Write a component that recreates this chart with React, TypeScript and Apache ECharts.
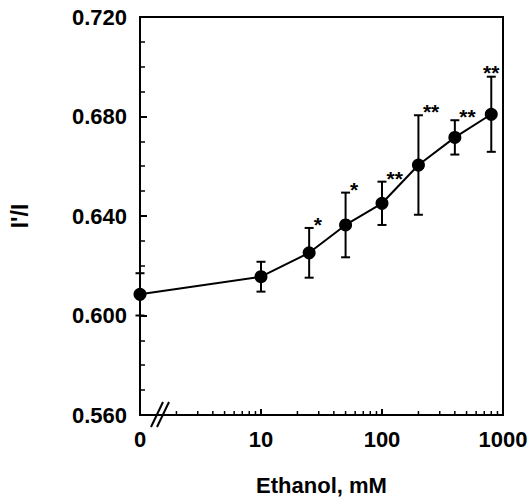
import React, { useEffect, useRef } from "react";
import * as echarts from "echarts";

// Ethanol concentration (mM); the control (0 mM) sits at the left edge of the log axis (value 1)
const ethanol = [1, 10, 25, 50, 100, 200, 400, 800];
const ratio = [0.6085, 0.6156, 0.6252, 0.6364, 0.6451, 0.6605, 0.6716, 0.6809];
const errors = [0.0085, 0.006, 0.01, 0.013, 0.0087, 0.02, 0.0069, 0.0151];
const signif = ["", "", "*", "*", "**", "**", "**", "**"];
const xTickLabels: Record<number, string> = { 1: "0", 10: "10", 100: "100", 1000: "1000" };
const minorXTicks = [2, 3, 4, 5, 6, 7, 8, 9, 20, 30, 40, 50, 60, 70, 80, 90, 200, 300, 400, 500, 600, 700, 800, 900];

const FONT = "'Liberation Sans', Arial, Helvetica, sans-serif";
const Y_MIN = 0.56;

export default function App() {
  const ref = useRef<HTMLDivElement>(null);
  useEffect(() => {
    if (!ref.current) return;
    const chart = echarts.init(ref.current, undefined, { renderer: "svg" });
    const last = ethanol.length - 1;
    const option: any = {
      animation: false,
      backgroundColor: "#fff",
      grid: {
        left: 140,
        top: 17,
        right: 29,
        bottom: 85,
        containLabel: false,
        outerBoundsMode: "none",
        show: true,
        borderColor: "#000",
        borderWidth: 2,
        backgroundColor: "transparent",
      },
      xAxis: {
        type: "log",
        logBase: 10,
        min: 1,
        max: 1000,
        name: "Ethanol, mM",
        nameLocation: "middle",
        nameGap: 59,
        nameTextStyle: { fontSize: 22, fontWeight: "bold", color: "#000", fontFamily: FONT },
        axisLine: { lineStyle: { color: "#000", width: 2 } },
        axisTick: { show: true, inside: true, length: 6, lineStyle: { color: "#000", width: 2 } },
        minorTick: { show: false },
        splitLine: { show: false },
        axisLabel: {
          fontSize: 22,
          fontWeight: "bold",
          color: "#000",
          fontFamily: FONT,
          margin: 13,
          formatter: (v: number) => xTickLabels[Math.round(v)] ?? "",
        },
      },
      yAxis: {
        type: "value",
        min: 0.56,
        max: 0.72,
        interval: 0.04,
        name: "I'/I",
        nameLocation: "middle",
        nameRotate: 90,
        nameGap: 109,
        nameTextStyle: { fontSize: 23, fontWeight: "bold", color: "#000", fontFamily: FONT },
        axisLine: { show: true, lineStyle: { color: "#000", width: 2 } },
        axisTick: { show: true, inside: true, length: 7, lineStyle: { color: "#000", width: 2 } },
        minorTick: { show: true, splitNumber: 4, length: 5, lineStyle: { color: "#000", width: 1.5 } },
        splitLine: { show: false },
        axisLabel: {
          fontSize: 22,
          fontWeight: "bold",
          color: "#000",
          fontFamily: FONT,
          margin: 13,
          formatter: (v: number) => v.toFixed(3),
        },
      },
      series: [
        {
          type: "custom",
          name: "minor ticks",
          data: minorXTicks.map((v) => [v]),
          clip: false,
          silent: true,
          z: 5,
          renderItem: (params: any, api: any) => {
            const p = api.coord([api.value(0), Y_MIN]);
            return {
              type: "line",
              shape: { x1: p[0], y1: p[1], x2: p[0], y2: p[1] - 4 },
              style: { stroke: "#000", lineWidth: 1.5 },
            };
          },
        },
        {
          type: "custom",
          name: "error bars",
          data: ethanol.map((x, i) => [x, ratio[i], errors[i], i]),
          clip: false,
          z: 3,
          renderItem: (params: any, api: any) => {
            const x = api.value(0);
            const y = api.value(1);
            const e = api.value(2);
            const idx = api.value(3);
            const top = api.coord([x, y + e]);
            const bot = api.coord([x, y - e]);
            const hw = 4.5;
            const children: any[] = [
              { type: "line", shape: { x1: top[0], y1: top[1], x2: bot[0], y2: bot[1] }, style: { stroke: "#000", lineWidth: 2 } },
              { type: "line", shape: { x1: top[0] - hw, y1: top[1], x2: top[0] + hw, y2: top[1] }, style: { stroke: "#000", lineWidth: 2 } },
              { type: "line", shape: { x1: bot[0] - hw, y1: bot[1], x2: bot[0] + hw, y2: bot[1] }, style: { stroke: "#000", lineWidth: 2 } },
            ];
            const label = signif[idx];
            if (label) {
              const above = idx === last;
              children.push({
                type: "text",
                x: above ? top[0] : top[0] + hw,
                y: above ? top[1] + 6 : top[1] + 7,
                style: {
                  text: label,
                  fill: "#000",
                  fontSize: 21,
                  fontWeight: "bold",
                  fontFamily: FONT,
                  align: above ? "center" : "left",
                  verticalAlign: "bottom",
                },
              });
            }
            return { type: "group", children };
          },
        },
        {
          type: "line",
          name: "I'/I",
          data: ethanol.map((x, i) => [x, ratio[i]]),
          symbol: "circle",
          symbolSize: 13,
          itemStyle: { color: "#000" },
          lineStyle: { color: "#000", width: 2 },
          z: 4,
          clip: false,
        },
      ],
      graphic: [
        {
          type: "group",
          z: 100,
          children: [
            { type: "rect", shape: { x: 154, y: 411, width: 10, height: 8 }, style: { fill: "#fff" } },
            { type: "line", shape: { x1: 151, y1: 427, x2: 163, y2: 402 }, style: { stroke: "#000", lineWidth: 2 } },
            { type: "line", shape: { x1: 157, y1: 427, x2: 169, y2: 402 }, style: { stroke: "#000", lineWidth: 2 } },
          ],
        },
      ],
    };
    chart.setOption(option);
    return () => chart.dispose();
  }, []);
  return <div ref={ref} style={{ width: 532, height: 500, position: "absolute", left: 0, top: 0 }} />;
}
